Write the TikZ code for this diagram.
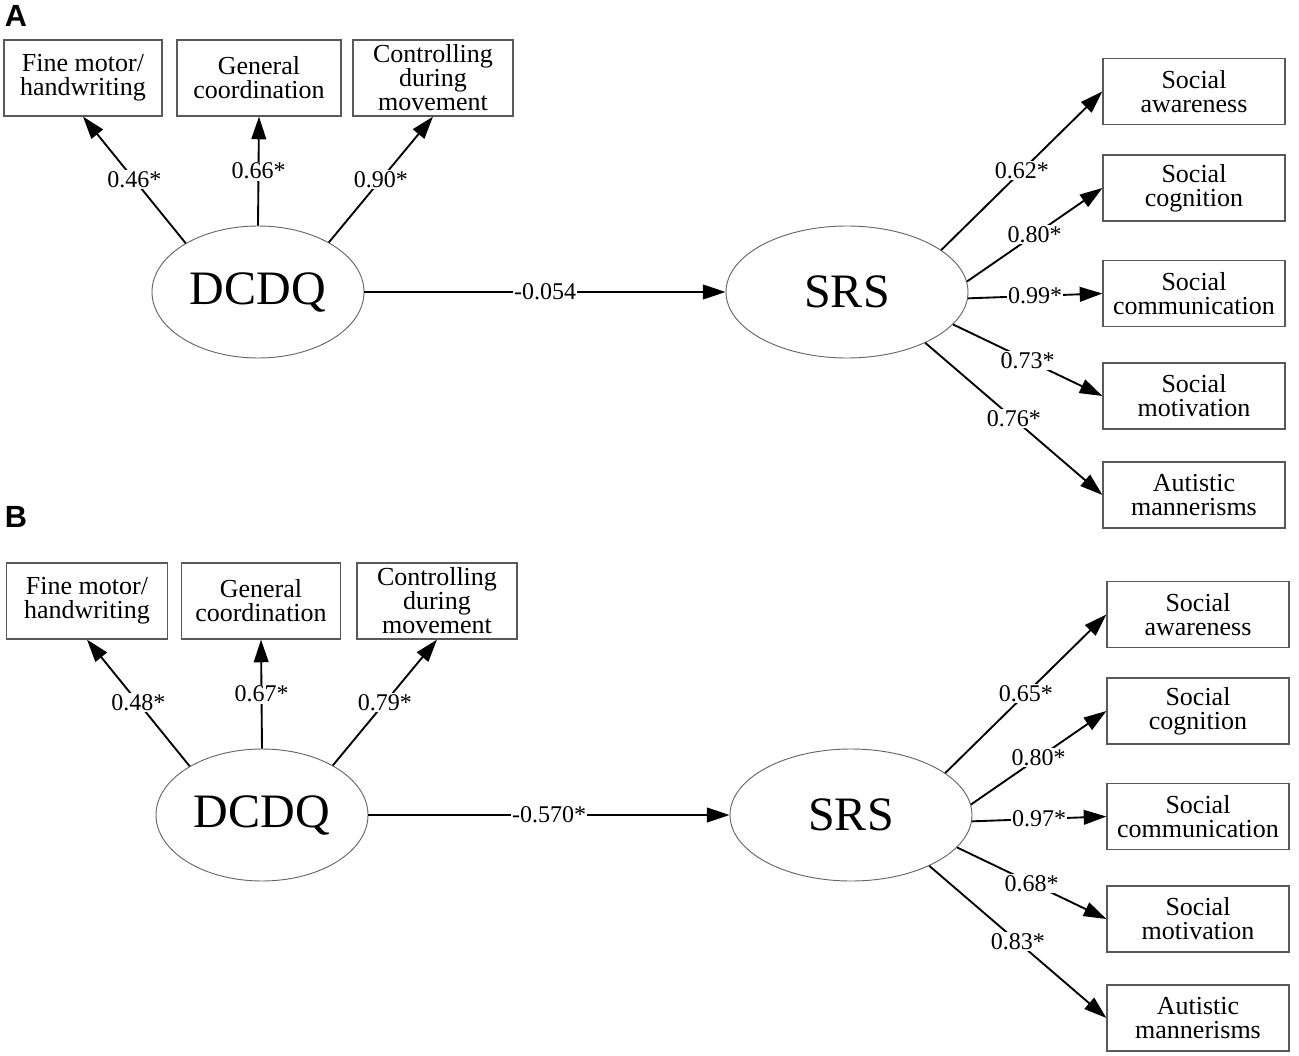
\documentclass[tikz,border=0pt]{standalone}
\usepackage{fontspec}
\setmainfont{Liberation Serif}
\newfontfamily\panelfont{Liberation Sans}
\usetikzlibrary{shapes.geometric,arrows.meta}

\tikzset{
  indicator/.style={draw=black!65, line width=0.9pt, inner sep=0pt, align=center,
    minimum width=136.5pt, minimum height=49.5pt, font=\fontsize{19.5}{18}\selectfont},
  latent/.style={ellipse, draw=black!60, line width=0.7pt, inner sep=0pt,
    minimum height=99pt, font=\fontsize{36}{36}\selectfont},
  load/.style={-{Triangle[length=17pt,width=11pt]}, line width=1.4pt},
  coef/.style={pos=0.5, fill=white, inner sep=1pt, font=\fontsize{18}{18}\selectfont},
  panel/.style={font=\fontsize{23}{23}\selectfont\panelfont\bfseries, inner sep=0pt}
}

\begin{document}
\begin{tikzpicture}[x=0.75pt,y=0.75pt,yscale=-1,xscale=1]
\useasboundingbox (0,0) rectangle (1299,1056);

%Panel letters
\node[panel] (letA) at (16,16) {A};
\node[panel] (letB) at (16,517) {B};

%Panel A
\begin{scope}
% Boxes
\node[indicator, minimum width=118.5pt, minimum height=57pt] (fmA) at (83,78) {Fine motor/\\handwriting};
\node[indicator, minimum width=123pt, minimum height=57pt] (gcA) at (259,78) {General\\coordination};
\node[indicator, minimum width=120pt, minimum height=57pt] (cmA) at (433,78) {Controlling\\during\\movement};
\node[indicator] (awA) at (1194,91.5) {Social\\awareness};
\node[indicator] (cgA) at (1194,188) {Social\\cognition};
\node[indicator] (cuA) at (1194,293.5) {Social\\communication};
\node[indicator] (mvA) at (1194,396) {Social\\motivation};
\node[indicator] (amA) at (1194,495) {Autistic\\mannerisms};
% Ellipses
\node[latent, minimum width=159pt] (dcdqA) at (258,292) {DCDQ};
\node[latent, minimum width=181.5pt] (srsA) at (847,292) {SRS};
% Paths
\draw[load] (dcdqA.146) -- (fmA.south) node[coef] {0.46*};
\draw[load] (dcdqA.north) -- (gcA.south) node[coef] {0.66*};
\draw[load] (dcdqA.35) -- (cmA.south) node[coef] {0.90*};
\draw[load] (dcdqA.east) -- (srsA.west) node[coef] {-0.054};
\draw[load] (srsA.24) -- (awA.west) node[coef] {0.62*};
\draw[load] (srsA.5) -- (cgA.west) node[coef] {0.80*};
\draw[load] (srsA.-3) -- (cuA.west) node[coef] {0.99*};
\draw[load] (srsA.-17) -- (mvA.west) node[coef] {0.73*};
\draw[load] (srsA.-33) -- (amA.west) node[coef] {0.76*};
\end{scope}

%Panel B
\begin{scope}[shift={(4,523)}]
% Boxes
\node[indicator, minimum width=120.5pt, minimum height=57pt] (fmB) at (83,78) {Fine motor/\\handwriting};
\node[indicator, minimum width=119.5pt, minimum height=57pt] (gcB) at (257,78) {General\\coordination};
\node[indicator, minimum width=120pt, minimum height=57pt] (cmB) at (433,78) {Controlling\\during\\movement};
\node[indicator] (awB) at (1194,91.5) {Social\\awareness};
\node[indicator] (cgB) at (1194,188) {Social\\cognition};
\node[indicator] (cuB) at (1194,293.5) {Social\\communication};
\node[indicator] (mvB) at (1194,396) {Social\\motivation};
\node[indicator] (amB) at (1194,495) {Autistic\\mannerisms};
% Ellipses
\node[latent, minimum width=159pt] (dcdqB) at (258,292) {DCDQ};
\node[latent, minimum width=181.5pt] (srsB) at (847,292) {SRS};
% Paths
\draw[load] (dcdqB.146) -- (fmB.south) node[coef] {0.48*};
\draw[load] (dcdqB.north) -- (gcB.south) node[coef] {0.67*};
\draw[load] (dcdqB.35) -- (cmB.south) node[coef] {0.79*};
\draw[load] (dcdqB.east) -- (srsB.west) node[coef] {-0.570*};
\draw[load] (srsB.24) -- (awB.west) node[coef] {0.65*};
\draw[load] (srsB.5) -- (cgB.west) node[coef] {0.80*};
\draw[load] (srsB.-3) -- (cuB.west) node[coef] {0.97*};
\draw[load] (srsB.-17) -- (mvB.west) node[coef] {0.68*};
\draw[load] (srsB.-33) -- (amB.west) node[coef] {0.83*};
\end{scope}

\end{tikzpicture}
\end{document}
